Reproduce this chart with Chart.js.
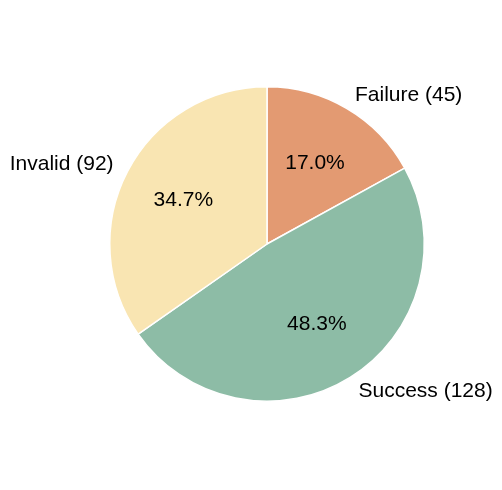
<!DOCTYPE html>
<html>
<head>
<meta charset="utf-8">
<script src="https://cdn.jsdelivr.net/npm/chart.js@4"></script>
<style>
  html, body { margin: 0; padding: 0; background: #ffffff; }
  #chart { display: block; }
</style>
</head>
<body>
<canvas id="chart" width="502" height="490"></canvas>
<script>
const categories = ["Failure", "Success", "Invalid"];
const counts = [45, 128, 92];
const colors = ["#e39a72", "#8dbca6", "#f9e5b2"];

const total = counts.reduce((a, b) => a + b, 0);
const FONT = "21px 'Liberation Sans', Arial, sans-serif";

const pieLabels = {
    id: "pieLabels",
    afterDatasetsDraw(chart) {
        const ctx = chart.ctx;
        const arcs = chart.getDatasetMeta(0).data;
        ctx.save();
        ctx.font = FONT;
        ctx.fillStyle = "#000000";
        ctx.textBaseline = "middle";
        arcs.forEach((arc, i) => {
            const p = arc.getProps(["x", "y", "startAngle", "endAngle", "outerRadius"], true);
            const mid = (p.startAngle + p.endAngle) / 2;
            const r = p.outerRadius;
            const cos = Math.cos(mid);
            const sin = Math.sin(mid);

            // percentage inside the wedge
            ctx.textAlign = "center";
            const pct = (counts[i] / total * 100).toFixed(1) + "%";
            ctx.fillText(pct, p.x + cos * r * 0.6, p.y + sin * r * 0.6);

            // category label outside the wedge
            ctx.textAlign = cos >= 0 ? "left" : "right";
            const label = categories[i] + " (" + counts[i] + ")";
            ctx.fillText(label, p.x + cos * r * 1.1, p.y + sin * r * 1.1);
        });
        ctx.restore();
    }
};

new Chart(document.getElementById("chart"), {
    type: "pie",
    data: {
        labels: categories,
        datasets: [
            {
                data: counts,
                backgroundColor: colors,
                borderColor: "#ffffff",
                borderWidth: 1.5
            }
        ]
    },
    options: {
        responsive: false,
        animation: false,
        layout: {
            padding: { left: 109, right: 77, top: 86, bottom: 88 }
        },
        plugins: {
            legend: { display: false },
            tooltip: { enabled: false }
        }
    },
    plugins: [pieLabels]
});
</script>
</body>
</html>
